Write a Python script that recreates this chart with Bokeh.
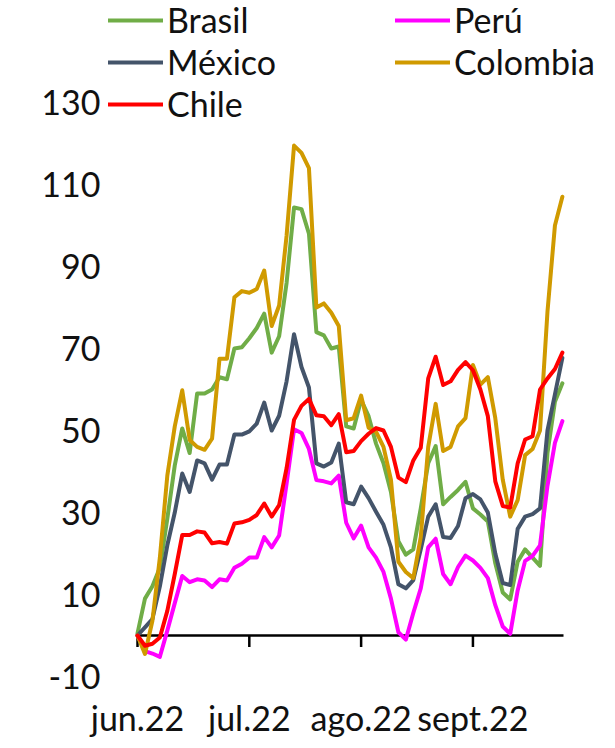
from bokeh.plotting import figure
from bokeh.models import Range1d, FixedTicker, Legend, LegendItem
from bokeh.embed import file_html
from bokeh.resources import INLINE

# day offsets from 1 June 2022 (every second day)
days = [0, 2, 4, 6, 8, 10, 12, 14, 16, 18, 20, 22, 24, 26, 28, 30, 32, 34, 36, 38,
        40, 42, 44, 46, 48, 50, 52, 54, 56, 58, 60, 62, 64, 66, 68, 70, 72, 74, 76, 78,
        80, 82, 84, 86, 88, 90, 92, 94, 96, 98, 100, 102, 104, 106, 108, 110, 112, 114]

brasil = [0.5, 9, 12, 16.5, 28.5, 41.5, 50.5, 44.5, 59, 59, 60, 63, 62.5, 70, 70.3, 72.5, 75, 78.5, 69, 73,
          86, 104.4, 104, 98, 74, 73.2, 70, 70.5, 51, 50.5, 57.5, 53.5, 46.8, 42, 35, 23, 19.7, 21, 31, 42,
          46.2, 32, 33.8, 35.5, 37.5, 31, 29.5, 27.8, 17.6, 10.5, 8.8, 18, 21, 19, 17, 44.5, 57, 61.5]
peru = [0, -3.8, -4.4, -5.2, 1.2, 7.9, 14.5, 13, 13.7, 13.4, 11.8, 13.7, 13.4, 16.5, 17.5, 19, 19, 24, 21.5, 24.4,
        37, 50.3, 49.4, 45.5, 37.9, 37.6, 37.1, 39, 27.5, 23.7, 26.8, 21.5, 19, 15.5, 9, 0.8, -1, 5.5, 11.5, 21.5,
        23.6, 15, 12.5, 16.7, 19.5, 18.3, 16.5, 14, 7.4, 2.2, 0.4, 11, 18.2, 19.4, 22, 36.5, 47, 52.3]
mexico = [0, 2, 4, 12, 22, 30, 39.5, 35, 42.7, 42, 38, 41.7, 41.7, 49, 49, 49.8, 51.7, 56.8, 50, 53.6,
          62, 73.5, 65.5, 60.5, 42, 41.2, 42.2, 46.8, 32.5, 32, 36.3, 33.5, 30.2, 27, 21.5, 12.5, 11.5, 13.5, 21, 29,
          32, 24, 23.8, 26.7, 33.5, 34.5, 33.2, 30, 20, 12.8, 12.3, 26, 29, 29.6, 31, 50, 58.8, 67.7]
colombia = [0, -4.5, 3.6, 19, 39, 51, 59.8, 47.7, 46, 45.3, 48, 67.5, 67.5, 82.5, 84, 83.6, 84.5, 89, 75.5, 80.5,
            97.5, 119.5, 117.7, 114, 80, 81, 78.7, 75.5, 52.5, 53, 58.5, 50.7, 49.7, 46, 38, 18, 15.5, 14, 24, 46,
            56.5, 45, 46, 51, 53, 66, 61.2, 63, 53, 38, 29, 33, 44, 45.5, 50, 79, 100, 107]
chile = [0, -2.5, -2, -0.5, 6, 15, 24.5, 24.5, 25.4, 25.1, 22.5, 22.8, 22.4, 27.3, 27.6, 28.2, 29.4, 32.2, 29, 31.8,
         40.8, 52.6, 56, 57.7, 53.7, 53.5, 51.3, 54, 44.7, 45, 47.4, 49.2, 50.6, 50, 46, 38.5, 37.4, 42.7, 45.8, 62.7,
         68, 61.1, 62, 64.8, 66.7, 64.7, 60, 53.5, 37.6, 31.6, 31.2, 42, 47.8, 48.6, 60, 62.7, 65, 69]

month_pos = [0, 30, 60, 90]
month_labels = ["jun.22", "jul.22", "ago.22", "sept.22"]
y_ticks = [-10, 10, 30, 50, 70, 90, 110, 130]

series = [("Brasil", brasil, "#70AD47"),
          ("Perú", peru, "#FF00FF"),
          ("México", mexico, "#44546A"),
          ("Colombia", colombia, "#D09A00"),
          ("Chile", chile, "#FF0000")]

FONT = "Lato"
TXT = "#111111"
FS = "34px"
X_END = 114.3  # right end of the horizontal axis line

p = figure(frame_width=496, frame_height=676,
           min_border_left=102, min_border_right=2, min_border_top=0, min_border_bottom=64,
           x_range=Range1d(-9.391, 123.69), y_range=Range1d(-10, 154.88),
           output_backend="svg", toolbar_location=None)
p.outline_line_color = None
p.xgrid.visible = False
p.ygrid.visible = False
p.background_fill_color = "white"
p.border_fill_color = "white"

p.yaxis.ticker = FixedTicker(ticks=y_ticks)
p.yaxis.major_label_overrides = {t: str(t) for t in y_ticks}
p.yaxis.axis_line_color = None
p.yaxis.major_tick_line_color = None
p.yaxis.minor_tick_line_color = None
p.yaxis.major_tick_out = 0
p.yaxis.major_tick_in = 0
p.yaxis.major_label_standoff = 2
p.yaxis.major_label_text_font = FONT
p.yaxis.major_label_text_font_size = FS
p.yaxis.major_label_text_color = TXT

p.xaxis.ticker = FixedTicker(ticks=month_pos)
p.xaxis.major_label_overrides = {k: v for k, v in zip(month_pos, month_labels)}
p.xaxis.axis_line_color = None
p.xaxis.major_tick_line_color = None
p.xaxis.minor_tick_line_color = None
p.xaxis.major_tick_out = 0
p.xaxis.major_tick_in = 0
p.xaxis.major_label_standoff = 20
p.xaxis.major_label_text_font = FONT
p.xaxis.major_label_text_font_size = FS
p.xaxis.major_label_text_color = TXT

# horizontal axis line crossing at zero, with month tick marks
p.segment(x0=[0], y0=[0], x1=[X_END], y1=[0], line_color="black", line_width=2.5)
p.segment(x0=month_pos, y0=[0] * len(month_pos), x1=month_pos, y1=[-2.8] * len(month_pos),
          line_color="black", line_width=2.5)

items = []
for name, vals, col in series:
    r = p.line(days, vals, line_color=col, line_width=4, line_join="round", line_cap="round")
    items.append(LegendItem(label=name, renderers=[r]))

legend = Legend(items=items, orientation="horizontal", ncols=2,
                location=(6, 552), glyph_width=55, glyph_height=40,
                label_height=40, label_width=227, label_standoff=4, spacing=1,
                padding=0, margin=0, border_line_color=None, background_fill_alpha=0,
                label_text_font=FONT, label_text_font_size=FS, label_text_color=TXT)
p.add_layout(legend, "center")

open("out.html", "w").write(file_html(p, INLINE))
